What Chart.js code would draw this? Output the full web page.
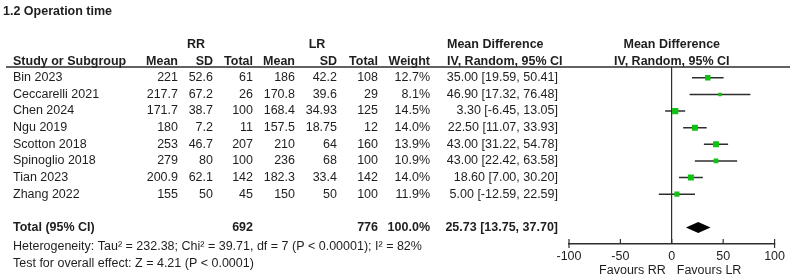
<!DOCTYPE html>
<html>
<head>
<meta charset="utf-8">
<script src="https://cdn.jsdelivr.net/npm/chart.js@4.4.1/dist/chart.umd.min.js"></script>
<style>
  html, body { margin:0; padding:0; background:#fff; }
  #wrap { width:790px; height:278px; }
</style>
</head>
<body>
<div id="wrap"><canvas id="forest" width="790" height="278"></canvas></div>
<script>
/* ── Datos ── */
const title = '1.2 Operation time';
const studies = ['Bin 2023','Ceccarelli 2021','Chen 2024','Ngu 2019','Scotton 2018','Spinoglio 2018','Tian 2023','Zhang 2022'];
const rrMean  = [221, 217.7, 171.7, 180, 253, 279, 200.9, 155];
const rrSD    = [52.6, 67.2, 38.7, 7.2, 46.7, 80, 62.1, 50];
const rrTotal = [61, 26, 100, 11, 207, 100, 142, 45];
const lrMean  = [186, 170.8, 168.4, 157.5, 210, 236, 182.3, 150];
const lrSD    = [42.2, 39.6, 34.93, 18.75, 64, 68, 33.4, 50];
const lrTotal = [108, 29, 125, 12, 160, 100, 142, 100];
const weight  = [12.7, 8.1, 14.5, 14.0, 13.9, 10.9, 14.0, 11.9];
const md      = [35.00, 46.90, 3.30, 22.50, 43.00, 43.00, 18.60, 5.00];
const ciLow   = [19.59, 17.32, -6.45, 11.07, 31.22, 22.42, 7.00, -12.59];
const ciHigh  = [50.41, 76.48, 13.05, 33.93, 54.78, 63.58, 30.20, 22.59];
const total   = { rr: 692, lr: 776, weight: 100.0, md: 25.73, low: 13.75, high: 37.70 };
const hetText  = 'Heterogeneity: Tau\u00b2 = 232.38; Chi\u00b2 = 39.71, df = 7 (P < 0.00001); I\u00b2 = 82%';
const testText = 'Test for overall effect: Z = 4.21 (P < 0.0001)';
const xTicks = [-100, -50, 0, 50, 100];
const favours = ['Favours RR', 'Favours LR'];

/* ── Estilo ── */
const FONT = '"Liberation Sans", Arial, sans-serif';
const FS = 12.5;
const TXT = '#1e1e1e';
const LINE = '#2e2e2e';
const GREEN = '#12c212';
const TOTAL_ROW = studies.length + 1;

function fmt2(v){ return v.toFixed(2); }
function ciStr(m, l, h){ return fmt2(m) + ' [' + fmt2(l) + ', ' + fmt2(h) + ']'; }

/* ── Tabla y adornos ── */
const tablePlugin = {
  id: 'forestTable',
  afterDraw(chart){
    const ctx = chart.ctx, xs = chart.scales.x, ys = chart.scales.y;
    const row = v => ys.getPixelForValue(v);
    ctx.save();
    ctx.fillStyle = TXT;
    ctx.textBaseline = 'middle';
    function txt(s, px, v, align, bold){
      ctx.font = (bold ? 'bold ' : '') + FS + 'px ' + FONT;
      ctx.textAlign = align;
      ctx.fillText(s, px, typeof v === 'number' ? row(v) : v.px);
    }
    // Columnas (borde derecho)
    const col = { rrM:178, rrS:213, rrT:253, lrM:295, lrS:337, lrT:378, w:430, ci:558 };
    const zeroPx = xs.getPixelForValue(0);

    txt(title, 3, -4, 'left', true);
    txt('RR', 196, -2, 'center', true);
    txt('LR', 317, -2, 'center', true);
    txt('Mean Difference', 447, -2, 'left', true);
    txt('Mean Difference', zeroPx, -2, 'center', true);
    txt('Study or Subgroup', 13, -1, 'left', true);
    txt('Mean', col.rrM, -1, 'right', true);
    txt('SD', col.rrS, -1, 'right', true);
    txt('Total', col.rrT, -1, 'right', true);
    txt('Mean', col.lrM, -1, 'right', true);
    txt('SD', col.lrS, -1, 'right', true);
    txt('Total', col.lrT, -1, 'right', true);
    txt('Weight', col.w, -1, 'right', true);
    txt('IV, Random, 95% CI', 447, -1, 'left', true);
    txt('IV, Random, 95% CI', zeroPx, -1, 'center', true);

    // línea de encabezado
    ctx.strokeStyle = LINE; ctx.lineWidth = 1.6;
    ctx.beginPath(); ctx.moveTo(6, ys.top); ctx.lineTo(790, ys.top); ctx.stroke();

    studies.forEach(function(s, i){
      txt(s, 13, i, 'left');
      txt(String(rrMean[i]), col.rrM, i, 'right');
      txt(String(rrSD[i]), col.rrS, i, 'right');
      txt(String(rrTotal[i]), col.rrT, i, 'right');
      txt(String(lrMean[i]), col.lrM, i, 'right');
      txt(String(lrSD[i]), col.lrS, i, 'right');
      txt(String(lrTotal[i]), col.lrT, i, 'right');
      txt(weight[i].toFixed(1) + '%', col.w, i, 'right');
      txt(ciStr(md[i], ciLow[i], ciHigh[i]), col.ci, i, 'right');
    });

    txt('Total (95% CI)', 13, TOTAL_ROW, 'left', true);
    txt(String(total.rr), col.rrT, TOTAL_ROW, 'right', true);
    txt(String(total.lr), col.lrT, TOTAL_ROW, 'right', true);
    txt(total.weight.toFixed(1) + '%', col.w, TOTAL_ROW, 'right', true);
    txt(ciStr(total.md, total.low, total.high), col.ci, TOTAL_ROW, 'right', true);
    txt(hetText, 13, TOTAL_ROW + 1.15, 'left');
    txt(testText, 13, TOTAL_ROW + 2.15, 'left');

    // diamante del total
    const dy = row(TOTAL_ROW), hh = 5.5;
    ctx.fillStyle = '#000';
    ctx.beginPath();
    ctx.moveTo(xs.getPixelForValue(total.low), dy);
    ctx.lineTo(xs.getPixelForValue(total.md), dy - hh);
    ctx.lineTo(xs.getPixelForValue(total.high), dy);
    ctx.lineTo(xs.getPixelForValue(total.md), dy + hh);
    ctx.closePath(); ctx.fill();

    // marcas del eje (hacia arriba; extremos cruzan)
    ctx.strokeStyle = LINE; ctx.lineWidth = 1.2;
    xTicks.forEach(function(v, k){
      const px = xs.getPixelForValue(v);
      const end = (k === 0 || k === xTicks.length - 1);
      ctx.beginPath();
      ctx.moveTo(px, xs.top - 5);
      ctx.lineTo(px, xs.top + (end ? 4 : 0));
      ctx.stroke();
    });

    ctx.fillStyle = TXT;
    txt(favours[0], zeroPx - 6, { px: xs.top + 27 }, 'right');
    txt(favours[1], zeroPx + 5, { px: xs.top + 27 }, 'left');
    ctx.restore();
  }
};

/* ── Datasets ── */
const markerSet = {
  label: 'MD',
  data: studies.map(function(s, i){ return { x: md[i], y: i }; }),
  pointStyle: 'rect',
  backgroundColor: GREEN,
  borderWidth: 0,
  pointRadius: function(c){ return weight[c.dataIndex] * 0.43 / Math.SQRT2; },
  showLine: false
};
const ciSets = studies.map(function(s, i){
  return {
    label: s,
    data: [{ x: ciLow[i], y: i }, { x: ciHigh[i], y: i }],
    showLine: true,
    borderColor: LINE,
    borderWidth: 1.5,
    pointRadius: 0
  };
});

new Chart(document.getElementById('forest'), {
  type: 'scatter',
  data: { datasets: [markerSet].concat(ciSets) },
  plugins: [tablePlugin],
  options: {
    responsive: false,
    animation: false,
    events: [],
    layout: { padding: { left: 569, right: 12, top: 67, bottom: 0 } },
    plugins: { legend: { display: false }, tooltip: { enabled: false } },
    scales: {
      x: {
        type: 'linear', min: -100, max: 100,
        afterBuildTicks: function(s){ s.ticks = xTicks.map(function(v){ return { value: v }; }); },
        afterFit: function(s){ s.height = 34; },
        grid: {
          drawTicks: false,
          color: function(c){ return c.tick && c.tick.value === 0 ? LINE : 'rgba(0,0,0,0)'; },
          lineWidth: 1.2
        },
        border: { display: true, color: LINE, width: 1.5 },
        ticks: { padding: 5, color: TXT, font: { family: FONT, size: FS }, maxRotation: 0 }
      },
      y: { type: 'linear', display: false, reverse: true, min: -0.65, max: 10 }
    }
  }
});
</script>
</body>
</html>
